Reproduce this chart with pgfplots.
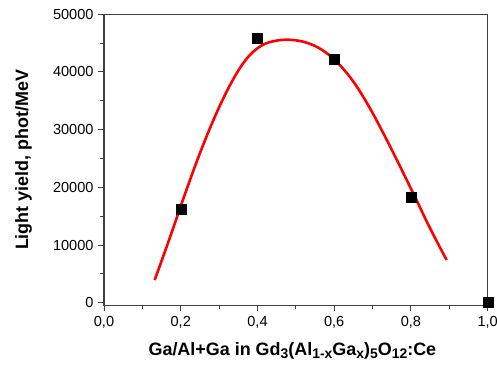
\documentclass[border=0pt]{standalone}
\usepackage{pgfplots}
\pgfplotsset{compat=1.18}
\usepackage{fontspec}
\setmainfont{Liberation Sans}

% measured light yield of the garnet series
\pgfplotstableread{
x     y
0.2   16200
0.4   45800
0.6   42200
0.8   18300
1.0   150
}\measured

% fitted trend through the measurements
\pgfplotstableread{
x      y
0.132  3930
0.170  10960
0.210  18640
0.250  25920
0.290  32400
0.330  37920
0.370  42160
0.410  44560
0.450  45440
0.490  45560
0.530  45040
0.570  43760
0.610  41520
0.650  38320
0.690  34080
0.730  29120
0.770  23840
0.810  18400
0.850  12880
0.893  7400
}\fit

\newcommand{\sub}[1]{\raisebox{-0.4ex}{\fontsize{14}{14}\selectfont #1}}

\begin{document}
\begin{tikzpicture}
\path[use as bounding box] (0,0) rectangle (497bp,365bp);
\begin{axis}[
  at={(104bp,59.7bp)}, anchor=south west,
  scale only axis,
  width=383.7bp, height=291bp,
  xmin=0, xmax=1.0,
  ymin=-450, ymax=50000,
  xtick={0,0.2,...,1.0},
  minor xtick={0.1,0.3,...,0.9},
  ytick={0,10000,...,50000},
  minor ytick={5000,15000,...,45000},
  scaled y ticks=false,
  tick align=outside,
  major tick length=6bp,
  minor tick length=3.5bp,
  xtick pos=bottom, ytick pos=left,
  axis line style={black!75, line width=1.1bp},
  every tick/.style={black!75, line width=1bp},
  /pgf/number format/assume math mode=true,
  xticklabel style={font=\fontsize{14.6}{14.6}\selectfont,
    /pgf/number format/fixed, /pgf/number format/fixed zerofill,
    /pgf/number format/precision=1, /pgf/number format/use comma},
  yticklabel style={font=\fontsize{14.6}{14.6}\selectfont,
    /pgf/number format/fixed, /pgf/number format/1000 sep={}},
  xticklabel shift=1.5bp,
  yticklabel shift=1bp,
  xlabel={Ga/Al+Ga in Gd\sub{3}(Al\sub{1-x}Ga\sub{x})\sub{5}O\sub{12}:Ce},
  xlabel style={font=\fontsize{18}{18}\selectfont\bfseries, at={(axis description cs:0.491,-0.171)}, anchor=base},
  ylabel={Light yield, phot/MeV},
  ylabel style={font=\fontsize{18}{18}\selectfont\bfseries, at={(axis description cs:-0.198,0.5)}, anchor=base, rotate=0},
  clip=false,
]
\addplot[red, line width=2.6bp, smooth, tension=0.6] table[x=x, y=y] {\fit};
\addplot[only marks, mark=square*, mark size=5bp, mark options={fill=black, draw=black}] table[x=x, y=y] {\measured};
\end{axis}
\end{tikzpicture}
\end{document}
